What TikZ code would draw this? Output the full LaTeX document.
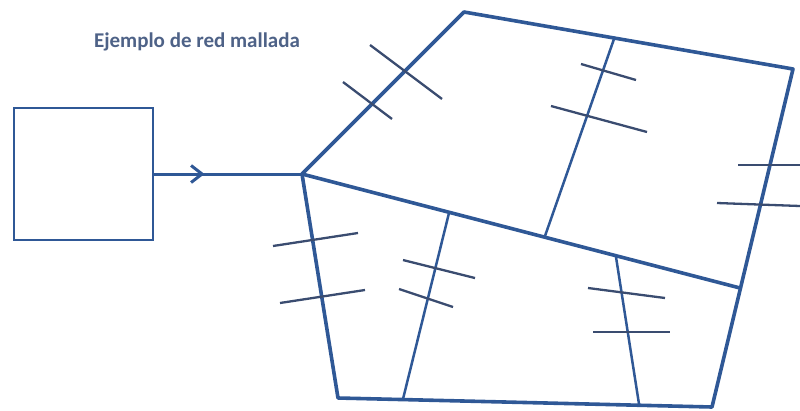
\documentclass[tikz,border=0pt]{standalone}
\usepackage{fontspec}
\setmainfont{Carlito}
\usetikzlibrary{
  arrows.meta,
  decorations.markings
}
\definecolor{meshblue}{RGB}{47,88,150}
\definecolor{tickblue}{RGB}{58,76,112}
\definecolor{titleblue}{RGB}{78,98,135}

\begin{document}
\begin{tikzpicture}[
  x=1pt, y=-1pt,
  edge/.style={meshblue, line width=3.6pt, line join=round},
  branch/.style={meshblue, line width=2.5pt},
  tick/.style={tickblue, line width=2.3pt},
  source/.style={
    rectangle, draw=meshblue, line width=2.6pt,
    minimum width=139pt, minimum height=132pt
  },
  feed/.style={
    meshblue, line width=3pt,
    decoration={markings, mark=at position 0.34 with {\arrow{Straight Barb[length=11pt, width=17pt, line width=3pt]}}},
    postaction=decorate
  },
]
\useasboundingbox (0,0) rectangle (800,410);

% Title
\node[font=\fontsize{21}{24}\selectfont\bfseries, text=titleblue, anchor=base]
  (title) at (197,47) {Ejemplo de red mallada};

% Source box and feeder
\node[source] (src) at (83.5,174) {};
\coordinate (hub) at (302,174);
\draw[feed] (src.east) -- (hub);

% Mesh outline
\coordinate (top) at (464,12);
\coordinate (ne) at (793,69);
\coordinate (se) at (740,288);
\coordinate (br) at (712,407);
\coordinate (bl) at (338,398);
\draw[edge] (hub) -- (top) -- (ne) -- (br) -- (bl) -- cycle;
\draw[edge] (hub) -- (se);

% Inner branches
\coordinate (ua) at (614,39);
\coordinate (ub) at (545,236);
\draw[branch] (ua) -- (ub);
\coordinate (la) at (449,213);
\coordinate (lb) at (403,399);
\draw[branch] (la) -- (lb);
\coordinate (ra) at (616,257);
\coordinate (rb) at (639,404);
\draw[branch] (ra) -- (rb);

% Ticks on top-left edge
\draw[tick] (343,82) -- (392,119);
\draw[tick] (370,45) -- (442,99);

% Ticks on upper branch
\draw[tick] (581,64) -- (636,80);
\draw[tick] (551,106) -- (647,132);

% Ticks on right edge
\draw[tick] (738,165) -- (800,165);
\draw[tick] (717,203) -- (800,206);

% Ticks on left edge
\draw[tick] (273,246) -- (358,233);
\draw[tick] (280,303) -- (365,290);

% Ticks on lower-left branch
\draw[tick] (403,260) -- (475,278);
\draw[tick] (399,289) -- (453,307);

% Ticks on lower-right branch
\draw[tick] (588,288) -- (665,298);
\draw[tick] (593,332) -- (670,332);

\end{tikzpicture}
\end{document}
